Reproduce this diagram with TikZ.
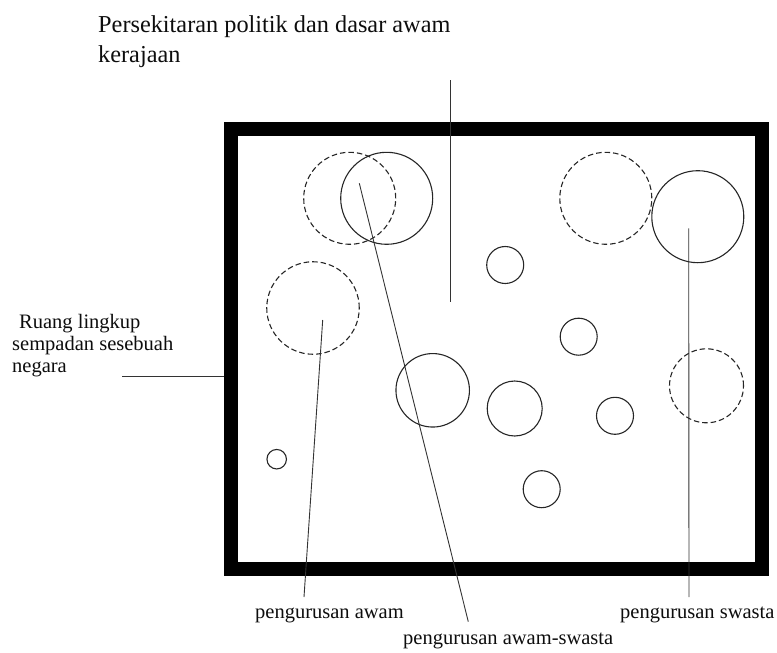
\documentclass[tikz,border=0pt]{standalone}
\usepackage{fontspec}
\setmainfont{Liberation Serif}
\begin{document}
\begin{tikzpicture}[x=1pt,y=-1pt,
  ring/.style={circle, draw=black!85, line width=1.1pt, inner sep=0pt, minimum size=#1},
  dring/.style={ring=#1, dash pattern=on 5.5pt off 3pt},
  lead/.style={draw=black!80, line width=0.9pt},
  lbl/.style={inner sep=0pt, font=\fontsize{20.5}{22}\selectfont, text=black!95, align=left},
  ttl/.style={inner sep=0pt, font=\fontsize{24.3}{30}\selectfont, text=black!95, align=left}]
\useasboundingbox (0,0) rectangle (777,653);

% frame
\node[draw=black, line width=14pt, inner sep=0pt, outer sep=7pt,
      minimum width=530.3pt, minimum height=440pt] (frame) at (496.35,349) {};

% circles
\node[dring=92pt] (c1) at (349.7,198.3) {};
\node[ring=92pt] (c2) at (386.7,198.3) {};
\node[dring=92pt] (c3) at (605.8,198.3) {};
\node[ring=92pt] (c4) at (697.8,216.7) {};
\node[ring=37pt] (c5) at (505.2,265) {};
\node[dring=92.5pt] (c6) at (313,308) {};
\node[ring=37pt] (c7) at (578.7,336.7) {};
\node[ring=73.5pt] (c8) at (432.7,390.3) {};
\node[ring=55pt] (c9) at (514.7,408.5) {};
\node[ring=37pt] (c10) at (615,415.8) {};
\node[dring=74pt] (c11) at (706.5,385.8) {};
\node[ring=19.5pt] (c12) at (276.7,459.2) {};
\node[ring=37pt] (c13) at (541.7,489.2) {};

% texts
\node[ttl, anchor=north west] (title) at (98,15.3)
  {Persekitaran politik dan dasar awam\\kerajaan};
\node[lbl, anchor=north west] (ruang) at (12,314.3)
  {\hspace{7pt}Ruang lingkup\\sempadan sesebuah\\negara};
\node[lbl, anchor=base west] (awam) at (255,618) {pengurusan awam};
\node[lbl, anchor=base west] (campur) at (403,644) {pengurusan awam-swasta};
\node[lbl, anchor=base west] (swasta) at (620,618) {pengurusan swasta};

% connector end points
\coordinate (t1) at (450,80);
\coordinate (t2) at (450,302);
\coordinate (a1) at (322.7,320);
\coordinate (a2) at (304,597);
\coordinate (m1) at (359.3,183.3);
\coordinate (m2) at (468.3,621.7);
\coordinate (s1) at (688.7,228.3);
\coordinate (s2) at (689,597);
\coordinate (n1) at (122,376);

% connectors
\draw[lead] (t1) -- (t2);
\draw[lead] (a1) -- (a2);
\draw[lead] (m1) -- (m2);
\draw[lead] (s1) -- (s2);
\draw[lead] (n1) -- (n1 -| frame.west);
\end{tikzpicture}
\end{document}
